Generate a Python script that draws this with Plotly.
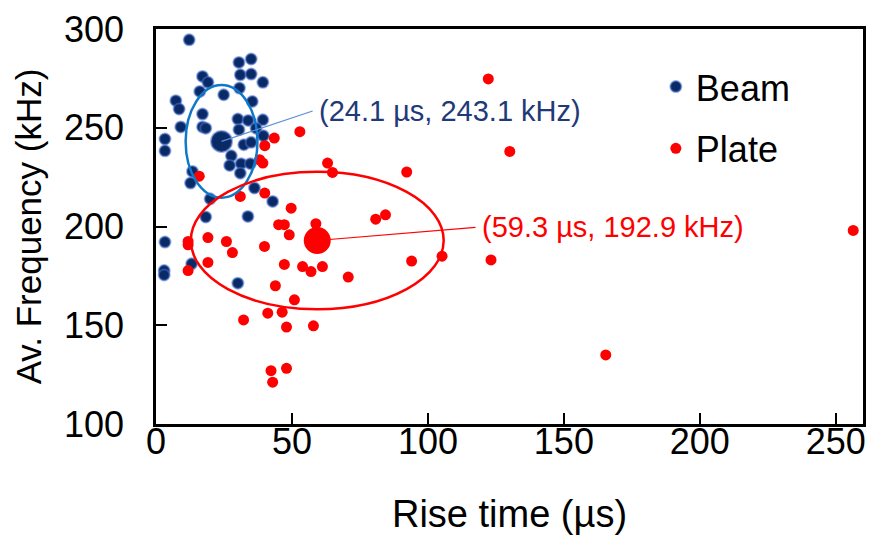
import plotly.graph_objects as go

# Rise time (µs) and average frequency (kHz) of acoustic-emission hits
beam_rise = [12.2, 30.5, 35.0, 31.0, 35.0, 39.3, 17.1, 19.1, 16.1, 30.7, 24.9, 35.4,
             7.3, 8.5, 17.1, 9.1, 17.1, 18.3, 30.1, 33.9, 39.3, 30.5, 36.8, 3.3,
             3.3, 39.5, 32.3, 35.0, 27.7, 27.1, 31.3, 34.7, 31.0, 13.4, 12.7, 19.9,
             36.2, 42.9, 18.3, 33.8, 3.3, 13.1, 3.0, 3.0, 30.1]
beam_freq = [294.5, 283.1, 284.8, 276.8, 277.2, 273.0, 276.0, 273.0, 268.4, 270.1, 266.7, 263.3,
             263.7, 259.5, 256.9, 250.4, 250.4, 249.8, 254.4, 253.7, 254.0, 249.0, 249.8, 244.3,
             238.3, 245.9, 241.4, 242.6, 235.8, 230.9, 231.8, 231.8, 227.0, 227.9, 222.0, 214.0,
             219.5, 212.7, 204.8, 205.1, 192.1, 181.1, 177.7, 175.5, 171.3]

plate_rise = [43.5, 52.9, 40.0, 39.3, 38.1, 15.9, 31.0, 40.0, 49.7, 45.1, 47.2, 49.0,
              58.8, 19.1, 11.8, 11.8, 25.9, 28.1, 39.9, 19.1, 11.8, 47.2, 53.9, 57.0,
              61.2, 43.9, 50.9, 41.1, 46.4, 32.2, 48.0, 57.9, 42.3, 48.0, 42.9, 63.1,
              64.9, 70.7, 92.2, 80.8, 84.4, 105.2, 94.0, 122.2, 130.1, 123.2, 256.4, 165.4]
plate_freq = [244.8, 248.0, 240.9, 232.1, 233.8, 225.5, 215.2, 216.9, 209.3, 200.9, 200.9, 195.8,
              201.4, 194.4, 192.4, 190.7, 192.4, 186.8, 189.9, 181.8, 177.7, 180.8, 179.7, 177.2,
              179.7, 170.0, 162.9, 156.1, 156.6, 152.7, 149.1, 149.7, 127.0, 128.2, 121.2, 232.1,
              227.4, 174.4, 227.6, 203.7, 205.9, 185.0, 182.5, 274.7, 238.0, 183.1, 198.0, 135.0]

# Cluster centroids and ellipse semi-axes (µs, kHz)
beam_centroid = (24.1, 243.1)
plate_centroid = (59.3, 192.9)
beam_semi = (13.2, 28.5)
plate_semi = (46.5, 34.8)

# Label anchor points for the centroid call-outs
beam_label_at = (57.6, 258.5)
plate_label_at = (117.5, 199.6)

x_ticks = [0, 50, 100, 150, 200, 250]
y_ticks = [100, 150, 200, 250, 300]

NAVY = "#0a2a66"
RED = "#ff0000"
FONT = "Liberation Sans, Arial, sans-serif"

fig = go.Figure()

fig.add_trace(go.Scatter(
    x=beam_rise, y=beam_freq, mode="markers", name="Beam", legendgroup="beam",
    marker=dict(size=11, color=NAVY, line=dict(color="rgba(70,110,200,0.55)", width=2)),
))
fig.add_trace(go.Scatter(
    x=plate_rise, y=plate_freq, mode="markers", name="Plate", legendgroup="plate",
    marker=dict(size=11, color=RED, line=dict(width=0)),
))
fig.add_trace(go.Scatter(
    x=[beam_centroid[0]], y=[beam_centroid[1]], mode="markers", showlegend=False,
    marker=dict(size=21, color=NAVY, line=dict(color="rgba(70,110,200,0.55)", width=2)),
))
fig.add_trace(go.Scatter(
    x=[plate_centroid[0]], y=[plate_centroid[1]], mode="markers", showlegend=False,
    marker=dict(size=27, color=RED, line=dict(width=0)),
))

# Spread ellipses around each centroid
for (cx, cy), (sx, sy), col in [(beam_centroid, beam_semi, "#1078c8"),
                                (plate_centroid, plate_semi, RED)]:
    fig.add_shape(type="circle", xref="x", yref="y",
                  x0=cx - sx, x1=cx + sx, y0=cy - sy, y1=cy + sy,
                  line=dict(color=col, width=2.5), layer="above")

# Centroid call-outs with leader lines
for (cx, cy), (lx, ly), col, lcol in [(beam_centroid, beam_label_at, "#1f3a78", "#5b8fd6"),
                                      (plate_centroid, plate_label_at, RED, RED)]:
    fig.add_annotation(
        x=cx, y=cy, ax=lx, ay=ly, xref="x", yref="y", axref="x", ayref="y",
        text=f"({cx} µs, {cy} kHz)", showarrow=True, arrowhead=0, arrowwidth=1.2,
        arrowcolor=lcol, xanchor="left", yanchor="middle", borderpad=5,
        font=dict(family=FONT, size=29, color=col),
    )

axis_common = dict(
    showline=True, linecolor="black", linewidth=2.5, mirror=True,
    ticks="inside", ticklen=11, tickwidth=2, tickcolor="black",
    showgrid=False, zeroline=False,
    tickfont=dict(family=FONT, size=36, color="black"),
)

fig.update_xaxes(range=[0, 260], tickvals=x_ticks, ticklabelstandoff=-16,
                 title=dict(text="Rise time (µs)", font=dict(family=FONT, size=38, color="black"),
                            standoff=40),
                 **axis_common)
fig.update_yaxes(range=[100, 300], tickvals=y_ticks, ticklabelstandoff=22,
                 title=dict(text="Av. Frequency (kHz)", font=dict(family=FONT, size=35, color="black"),
                            standoff=12),
                 **axis_common)

fig.update_layout(
    width=873, height=538,
    margin=dict(l=156, r=7, t=29, b=114),
    plot_bgcolor="white", paper_bgcolor="white",
    legend=dict(x=0.707, y=0.93, xanchor="left", yanchor="top",
                font=dict(family=FONT, size=36, color="black"),
                tracegroupgap=12, itemwidth=30, bgcolor="rgba(0,0,0,0)"),
)

fig.write_html("out.html")
